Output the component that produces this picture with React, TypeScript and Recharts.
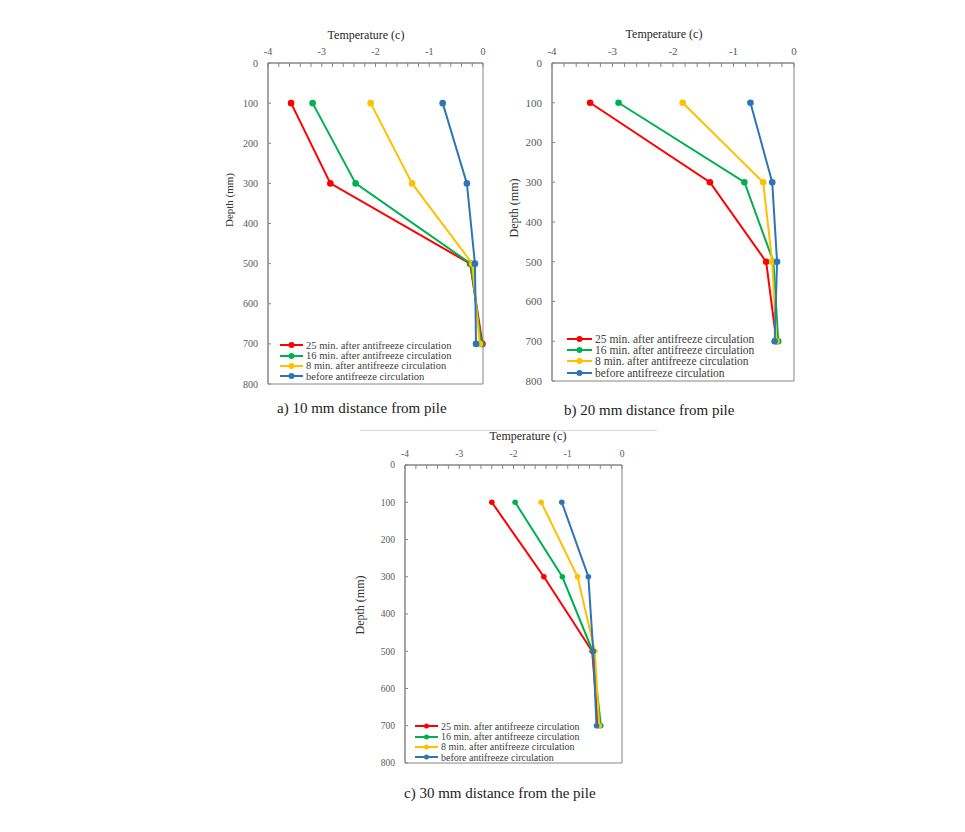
import {
  ScatterChart,
  Scatter,
  XAxis,
  YAxis,
  ReferenceArea,
} from 'recharts'

const depths = [100, 300, 500, 700]
const seriesNames = [
  '25 min. after antifreeze circulation',
  '16 min. after antifreeze circulation',
  '8 min. after antifreeze circulation',
  'before antifreeze circulation',
]
const seriesColors = ['#FF0000', '#00B050', '#FFC000', '#2E75B6']

// a) 10 mm
const a25 = [-3.57, -2.84, -0.24, -0.01]
const a16 = [-3.17, -2.37, -0.23, -0.03]
const a8 = [-2.09, -1.32, -0.2, -0.06]
const aBefore = [-0.75, -0.3, -0.15, -0.13]

// b) 20 mm
const b25 = [-3.37, -1.39, -0.46, -0.29]
const b16 = [-2.9, -0.82, -0.34, -0.26]
const b8 = [-1.84, -0.51, -0.36, -0.29]
const bBefore = [-0.72, -0.36, -0.28, -0.32]

// c) 30 mm
const c25 = [-2.4, -1.44, -0.55, -0.44]
const c16 = [-1.97, -1.1, -0.54, -0.39]
const c8 = [-1.49, -0.82, -0.5, -0.42]
const cBefore = [-1.11, -0.62, -0.53, -0.47]

const tempTicks = [-4, -3, -2, -1, 0]
const depthTicks = [0, 100, 200, 300, 400, 500, 600, 700, 800]

const AXIS = '#868686'
const TICK_TEXT = '#595959'
const FONT = '"Liberation Serif", "Times New Roman", serif'

// minor ticks on the temperature axis every 0.2
const minorTicks = Array.from({ length: 21 }, (_, i) => Math.round((-4 + i * 0.2) * 10) / 10)

interface Box {
  left: number
  top: number
  width: number
  height: number
}

interface PanelProps {
  plot: Box
  temps: number[][]
  tickFont: number
  dotR: number
  title: { x: number; y: number; size: number }
  depthLabel: { x: number; y: number; size: number }
  caption: { text: string; x: number; y: number }
  legend: { x: number; y: number; rowH: number; size: number; lineW: number }
}

function Panel({ plot, temps, tickFont, dotR, title, depthLabel, caption, legend }: PanelProps) {
  const Y_W = 50
  const X_H = 40

  const TopTick = (props: any) => {
    const { x, y, payload } = props
    const v = payload.value
    const major = tempTicks.includes(v)
    return (
      <g>
        <line x1={x} x2={x} y1={y + 8} y2={y + 12} stroke={AXIS} />
        {major && (
          <text x={x} y={y} textAnchor="middle" fontSize={tickFont} fill={TICK_TEXT} fontFamily={FONT}>
            {v}
          </text>
        )}
      </g>
    )
  }

  const LeftTick = (props: any) => {
    const { x, y, payload } = props
    return (
      <g>
        <line x1={x + 10} x2={x + 13} y1={y} y2={y} stroke={AXIS} />
        <text x={x} y={y} dy="0.35em" textAnchor="end" fontSize={tickFont} fill={TICK_TEXT} fontFamily={FONT}>
          {payload.value}
        </text>
      </g>
    )
  }

  return (
    <>
      <div
        style={{
          position: 'absolute',
          left: plot.left - Y_W,
          top: plot.top - X_H,
        }}
      >
        <ScatterChart
          width={plot.width + Y_W + 10}
          height={plot.height + X_H + 10}
          margin={{ top: 0, right: 10, bottom: 10, left: 0 }}
        >
          <XAxis
            type="number"
            dataKey="t"
            orientation="top"
            domain={[-4, 0]}
            ticks={minorTicks}
            interval={0}
            height={X_H}
            tickSize={0}
            tickMargin={8}
            tick={TopTick}
            axisLine={{ stroke: AXIS }}
          />
          <YAxis
            type="number"
            dataKey="d"
            domain={[0, 800]}
            ticks={depthTicks}
            interval={0}
            reversed
            width={Y_W}
            tickSize={0}
            tickMargin={10}
            tick={LeftTick}
            axisLine={{ stroke: AXIS }}
          />
          <ReferenceArea x1={-4} x2={0} y1={0} y2={800} fill="none" stroke={AXIS} strokeWidth={1} />
          {temps.map((row, i) => (
            <Scatter
              key={seriesNames[i]}
              name={seriesNames[i]}
              data={depths.map((d, k) => ({ d, t: row[k] }))}
              fill={seriesColors[i]}
              line={{ stroke: seriesColors[i], strokeWidth: 2 }}
              shape={(p: any) => <circle cx={p.cx} cy={p.cy} r={dotR} fill={seriesColors[i]} />}
              isAnimationActive={false}
            />
          ))}
        </ScatterChart>
      </div>

      <div
        style={{
          position: 'absolute',
          left: title.x,
          top: title.y,
          transform: 'translate(-50%, -50%)',
          fontFamily: FONT,
          fontSize: title.size,
          color: '#262626',
          whiteSpace: 'nowrap',
        }}
      >
        Temperature (c)
      </div>

      <div
        style={{
          position: 'absolute',
          left: depthLabel.x,
          top: depthLabel.y,
          transform: 'translate(-50%, -50%) rotate(-90deg)',
          fontFamily: FONT,
          fontSize: depthLabel.size,
          color: '#333',
          whiteSpace: 'nowrap',
        }}
      >
        Depth (mm)
      </div>

      <div
        style={{
          position: 'absolute',
          left: legend.x,
          top: legend.y,
          fontFamily: FONT,
          fontSize: legend.size,
          color: '#404040',
        }}
      >
        {seriesNames.map((name, i) => (
          <div
            key={name}
            style={{ display: 'flex', alignItems: 'center', height: legend.rowH, whiteSpace: 'nowrap' }}
          >
            <svg width={legend.lineW} height={8} style={{ marginRight: 3 }}>
              <line x1={0} x2={legend.lineW} y1={4} y2={4} stroke={seriesColors[i]} strokeWidth={2} />
              <circle cx={legend.lineW / 2} cy={4} r={dotR - 0.3} fill={seriesColors[i]} />
            </svg>
            <span>{name}</span>
          </div>
        ))}
      </div>

      <div
        style={{
          position: 'absolute',
          left: caption.x,
          top: caption.y,
          transform: 'translateY(-50%)',
          fontFamily: FONT,
          fontSize: 15,
          color: '#222',
          whiteSpace: 'nowrap',
        }}
      >
        {caption.text}
      </div>
    </>
  )
}

export default function App() {
  return (
    <div
      style={{
        position: 'absolute',
        left: 0,
        top: 0,
        width: 965,
        height: 832,
        background: '#fff',
        overflow: 'hidden',
      }}
    >
      <Panel
        plot={{ left: 268, top: 63, width: 215, height: 321 }}
        temps={[a25, a16, a8, aBefore]}
        tickFont={10}
        dotR={3.3}
        title={{ x: 366, y: 35, size: 12 }}
        depthLabel={{ x: 229, y: 200, size: 11 }}
        caption={{ text: 'a) 10 mm distance from pile', x: 277, y: 408 }}
        legend={{ x: 280, y: 340, rowH: 10.4, size: 10.5, lineW: 23 }}
      />
      <Panel
        plot={{ left: 552, top: 63, width: 242, height: 318 }}
        temps={[b25, b16, b8, bBefore]}
        tickFont={11}
        dotR={3.3}
        title={{ x: 664, y: 34, size: 12 }}
        depthLabel={{ x: 514, y: 208, size: 12 }}
        caption={{ text: 'b) 20 mm distance from pile', x: 564, y: 410 }}
        legend={{ x: 567, y: 333, rowH: 11.3, size: 11.5, lineW: 25 }}
      />
      <div
        style={{
          position: 'absolute',
          left: 360,
          top: 430,
          width: 297,
          height: 1,
          background: '#d9d9d9',
        }}
      />
      <Panel
        plot={{ left: 405, top: 465, width: 217, height: 298 }}
        temps={[c25, c16, c8, cBefore]}
        tickFont={9.5}
        dotR={2.8}
        title={{ x: 528, y: 436, size: 12 }}
        depthLabel={{ x: 360, y: 605, size: 12 }}
        caption={{ text: 'c) 30 mm distance from the pile', x: 404, y: 793 }}
        legend={{ x: 415, y: 721, rowH: 10.4, size: 10, lineW: 23 }}
      />
    </div>
  )
}
